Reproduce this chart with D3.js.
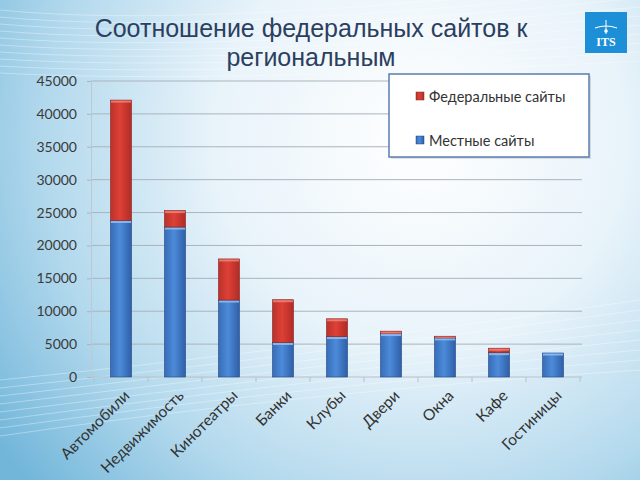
<!DOCTYPE html>
<html><head><meta charset="utf-8">
<script src="https://cdn.jsdelivr.net/npm/d3@7"></script>
<style>html,body{margin:0;padding:0;background:#fff;}svg{display:block;}</style>
</head><body>
<svg id="chart" width="640" height="480"></svg>
<script>
const categories = ["Автомобили","Недвижимость","Кинотеатры","Банки","Клубы","Двери","Окна","Кафе","Гостиницы"];
const localSites = [23800, 22800, 11700, 5250, 6150, 6600, 5950, 3700, 3650];
const federalSites = [18300, 2500, 6250, 6500, 2700, 370, 250, 680, 0];
const yTicks = [0,5000,10000,15000,20000,25000,30000,35000,40000,45000];
const seriesNames = ["Федеральные сайты","Местные сайты"];
const titleLines = ["Соотношение федеральных сайтов к","региональным"];

const svg = d3.select("#chart");
const defs = svg.append("defs");

// background
const rg = defs.append("radialGradient").attr("id","bg").attr("gradientUnits","userSpaceOnUse")
  .attr("cx",420).attr("cy",140).attr("r",520);
rg.append("stop").attr("offset","0%").attr("stop-color","#ffffff");
rg.append("stop").attr("offset","40%").attr("stop-color","#e8f3fa");
rg.append("stop").attr("offset","72%").attr("stop-color","#b3d9ed");
rg.append("stop").attr("offset","100%").attr("stop-color","#72b6da");
svg.append("rect").attr("width",640).attr("height",480).attr("fill","url(#bg)");

// faint decorative streaks
const streaks = svg.append("g").attr("stroke","#ffffff").attr("fill","none").attr("opacity",0.35);
for (let i=0;i<10;i++){
  streaks.append("path").attr("d",`M0,${10+i*7} Q200,${30+i*6} 640,${-20+i*9}`).attr("stroke-width",1);
}
for (let i=0;i<8;i++){
  streaks.append("path").attr("d",`M0,${380+i*8} Q300,${350+i*6} 640,${300+i*10}`).attr("stroke-width",1);
}

// gradients for bars
function barGrad(id, c0, c1, c2){
  const g = defs.append("linearGradient").attr("id",id).attr("x1","0").attr("x2","1").attr("y1","0").attr("y2","0");
  g.append("stop").attr("offset","0%").attr("stop-color",c0);
  g.append("stop").attr("offset","45%").attr("stop-color",c1);
  g.append("stop").attr("offset","100%").attr("stop-color",c2);
}
barGrad("gBlue","#386cb8","#4c8bd9","#2f5fa8");
barGrad("gRed","#b8322b","#de4036","#b02c26");

const x = d3.scaleBand().domain(categories).range([94,580]).paddingInner(0.61).paddingOuter(0.305);
const y = d3.scaleLinear().domain([0,45000]).range([377,81]);

// gridlines
svg.append("g").selectAll("line").data(yTicks.slice(1)).join("line")
  .attr("x1",91).attr("x2",582).attr("y1",d=>y(d)).attr("y2",d=>y(d))
  .attr("stroke","#a9b4bd").attr("stroke-width",1);

// y axis
const yAxis = svg.append("g").attr("transform","translate(91,0)")
  .call(d3.axisLeft(y).tickValues(yTicks).tickSize(4).tickPadding(10).tickFormat(d3.format("d")));
yAxis.select(".domain").attr("stroke","#c0c8cf");
yAxis.selectAll(".tick line").attr("stroke","#a9b4bd");
yAxis.selectAll("text").attr("font-family","Lato, 'Open Sans', sans-serif").attr("font-size",14).attr("fill","#3a3a3a");

// x axis
const step = x.step();
const xg = svg.append("g");
xg.append("line").attr("x1",91).attr("x2",582).attr("y1",y(0)).attr("y2",y(0)).attr("stroke","#b7c0c8");
xg.selectAll("line.tk").data(d3.range(categories.length+1)).join("line").attr("class","tk")
  .attr("x1",i=>94+i*step).attr("x2",i=>94+i*step).attr("y1",y(0)).attr("y2",y(0)+5).attr("stroke","#b7c0c8");
xg.selectAll("text").data(categories).join("text")
  .attr("transform",d=>`translate(${x(d)+x.bandwidth()/2+2},${y(0)+12}) rotate(-45)`)
  .attr("text-anchor","end").attr("dy","0.7em")
  .attr("font-family","Lato, 'Open Sans', sans-serif").attr("font-size",15.5).attr("fill","#333")
  .text(d=>d);

// bars
const bars = svg.append("g");
categories.forEach((c,i)=>{
  const bx = x(c), bw = x.bandwidth();
  const l = localSites[i], f = federalSites[i];
  bars.append("rect").attr("x",bx).attr("width",bw).attr("y",y(l)).attr("height",y(0)-y(l))
    .attr("fill","url(#gBlue)").attr("stroke","#244a85").attr("stroke-width",0.6);
  bars.append("rect").attr("x",bx+0.5).attr("width",bw-1).attr("y",y(l)+0.5).attr("height",2)
    .attr("fill","#8fbdf0").attr("opacity",0.9);
  if (f>0){
    bars.append("rect").attr("x",bx).attr("width",bw).attr("y",y(l+f)).attr("height",y(l)-y(l+f))
      .attr("fill","url(#gRed)").attr("stroke","#8a2520").attr("stroke-width",0.6);
    bars.append("rect").attr("x",bx+0.5).attr("width",bw-1).attr("y",y(l+f)+0.5).attr("height",Math.min(2,y(l)-y(l+f)-0.5))
      .attr("fill","#f08a80").attr("opacity",0.8);
  }
});

// legend
const lg = svg.append("g");
lg.append("rect").attr("x",391).attr("y",76).attr("width",200).attr("height",83).attr("fill","#888").attr("opacity",0.25);
lg.append("rect").attr("x",389).attr("y",74).attr("width",200).attr("height",83)
  .attr("fill","#ffffff").attr("stroke","#5a7db0").attr("stroke-width",1.5);
const legColors = ["url(#gRed)","url(#gBlue)"];
const legStroke = ["#8a2520","#244a85"];
seriesNames.forEach((n,i)=>{
  const yy = 92 + i*44;
  lg.append("rect").attr("x",416).attr("y",yy).attr("width",8).attr("height",8)
    .attr("fill",legColors[i]).attr("stroke",legStroke[i]).attr("stroke-width",0.5);
  lg.append("text").attr("x",429).attr("y",yy+9.5).attr("font-family","Lato, 'Open Sans', sans-serif")
    .attr("font-size",14.5).attr("fill","#333").text(n);
});

// title
svg.append("g").selectAll("text").data(titleLines).join("text")
  .attr("x",311).attr("y",(d,i)=>37+i*29).attr("text-anchor","middle")
  .attr("font-family","'Liberation Sans', Arial, sans-serif").attr("font-size",25).attr("fill","#2b3f60")
  .text(d=>d);

// logo
const logo = svg.append("g");
logo.append("rect").attr("x",585).attr("y",12).attr("width",42).attr("height",41).attr("fill","#1c8fd6");
logo.append("text").attr("x",606).attr("y",46).attr("text-anchor","middle").attr("font-family","'Liberation Serif', serif")
  .attr("font-weight","bold").attr("font-size",12).attr("fill","#fff").text("ITS");
logo.append("path").attr("d","M595,28 Q606,24 617,28").attr("stroke","#fff").attr("fill","none").attr("stroke-width",1.2);
logo.append("circle").attr("cx",606).attr("cy",31).attr("r",1.8).attr("fill","#fff");
logo.append("line").attr("x1",606).attr("x2",606).attr("y1",20).attr("y2",34).attr("stroke","#fff").attr("stroke-width",1);
</script>
</body></html>
